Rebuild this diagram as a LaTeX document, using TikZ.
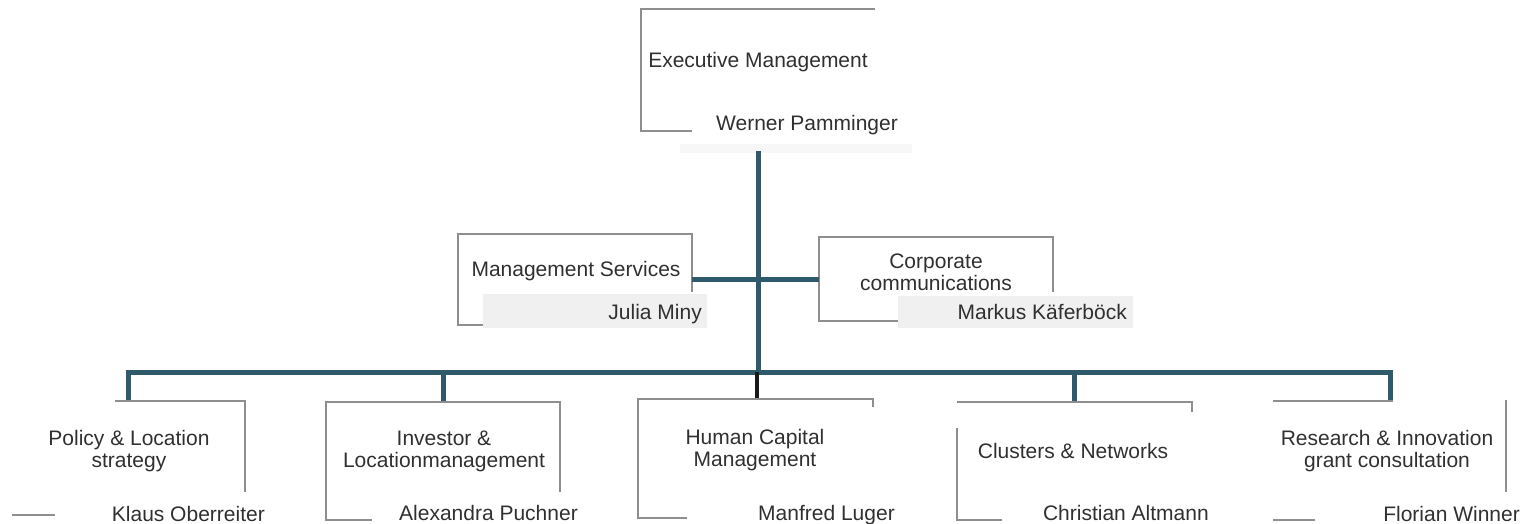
\documentclass[tikz,border=0pt]{standalone}
\usepackage{fontspec}
\setmainfont{Liberation Sans}
\usepackage{xcolor}
\usepackage{tikz}
\usetikzlibrary{positioning,calc}
\definecolor{busBlue}{HTML}{2F5A6B}
\definecolor{frameGray}{HTML}{8E8E8E}
\definecolor{textDark}{HTML}{303030}
\tikzset{
  unitLabel/.style={
    inner sep=0pt,
    text=textDark,
    font=\fontsize{21}{22}\selectfont,
    align=center
  },
  personLabel/.style={
    inner sep=0pt,
    text=textDark,
    font=\fontsize{21}{22}\selectfont
  },
  frameLine/.style={
    draw=frameGray,
    line width=1.1pt
  },
  busLine/.style={
    draw=busBlue,
    line width=5pt
  },
  leadLine/.style={
    draw=black!90,
    line width=4pt
  },
  nameShade/.style={
    fill=black!6
  }
}

\begin{document}
\begin{tikzpicture}[x=1pt,y=-1pt]
    \useasboundingbox (0,0) rectangle (1528,524);

    % top
    \draw[frameLine] (875,9) -- (641,9) -- (641,131) -- (692,131);
    \fill[black!3] (680,144) rectangle (912,153);
    \node[unitLabel, anchor=base] (exec) at (758,68) {Executive Management};
    \node[personLabel, anchor=base] (execName) at (807,131) {Werner Pamminger};

    % staff units
    \draw[frameLine] (692,292) -- (692,234) -- (458,234) -- (458,325) -- (483,325);
    \fill[nameShade] (483,294) rectangle (707,328);
    \node[unitLabel, anchor=base] (mgmt) at (576,276) {Management Services};
    \node[personLabel, anchor=base east] (mgmtName) at (702,319) {Julia Miny};

    \draw[frameLine] (1053,292) -- (1053,237) -- (819,237) -- (819,321) -- (898,321);
    \fill[nameShade] (898,296) rectangle (1133,328);
    \node[unitLabel] (corp) at (936,272) {Corporate\\communications};
    \node[personLabel, anchor=base east] (corpName) at (1127,319) {Markus Käferböck};

    \coordinate (execFoot) at (758,151);
    \coordinate (hubSide) at (758,279);
    \coordinate (hubBus) at (758,372);
    \coordinate (mgmtLink) at (692,279);
    \coordinate (corpLink) at (819,279);

    \draw[busLine] (execFoot) -- (hubBus);
    \draw[busLine] (mgmtLink) -- (hubSide) -- (corpLink);

    % departments
    \coordinate (policyTop) at (128,401);
    \coordinate (investorTop) at (443,402);
    \coordinate (humanTop) at (757,399);
    \coordinate (clustersTop) at (1074,402);
    \coordinate (researchTop) at (1390,401);

    \draw[busLine] (policyTop) -- (policyTop |- hubBus) -- (researchTop |- hubBus) -- (researchTop);
    \draw[busLine] (investorTop |- hubBus) -- (investorTop);
    \draw[busLine] (clustersTop |- hubBus) -- (clustersTop);
    \draw[leadLine] (humanTop |- hubBus) -- (humanTop);

    \draw[frameLine] (115,401) -- (245,401) -- (245,492);
    \draw[frameLine] (12,515) -- (55,515);
    \node[unitLabel] (policy) at (129,451) {Policy \& Location\\strategy};
    \node[personLabel, anchor=base east] (policyName) at (265,521) {Klaus Oberreiter};

    \draw[frameLine] (560,492) -- (560,402) -- (326,402) -- (326,520) -- (372,520);
    \node[unitLabel] (investor) at (444,451) {Investor \&\\Locationmanagement};
    \node[personLabel, anchor=base east] (investorName) at (578,520) {Alexandra Puchner};

    \draw[frameLine] (873,407) -- (873,399) -- (638,399) -- (638,518) -- (687,518);
    \node[unitLabel] (human) at (755,450) {Human Capital\\Management};
    \node[personLabel, anchor=base east] (humanName) at (895,520) {Manfred Luger};

    \draw[frameLine] (1192,412) -- (1192,402) -- (957,402);
    \draw[frameLine] (957,428) -- (957,520) -- (1002,520);
    \node[unitLabel, anchor=base] (clusters) at (1073,458) {Clusters \& Networks};
    \node[personLabel, anchor=base east] (clustersName) at (1209,520) {Christian Altmann};

    \draw[frameLine] (1273,401) -- (1393,401);
    \draw[frameLine] (1506,400) -- (1506,492);
    \draw[frameLine] (1273,520) -- (1315,520);
    \node[unitLabel] (research) at (1387,451) {Research \& Innovation\\grant consultation};
    \node[personLabel, anchor=base east] (researchName) at (1520,521) {Florian Winner};
\end{tikzpicture}
\end{document}
